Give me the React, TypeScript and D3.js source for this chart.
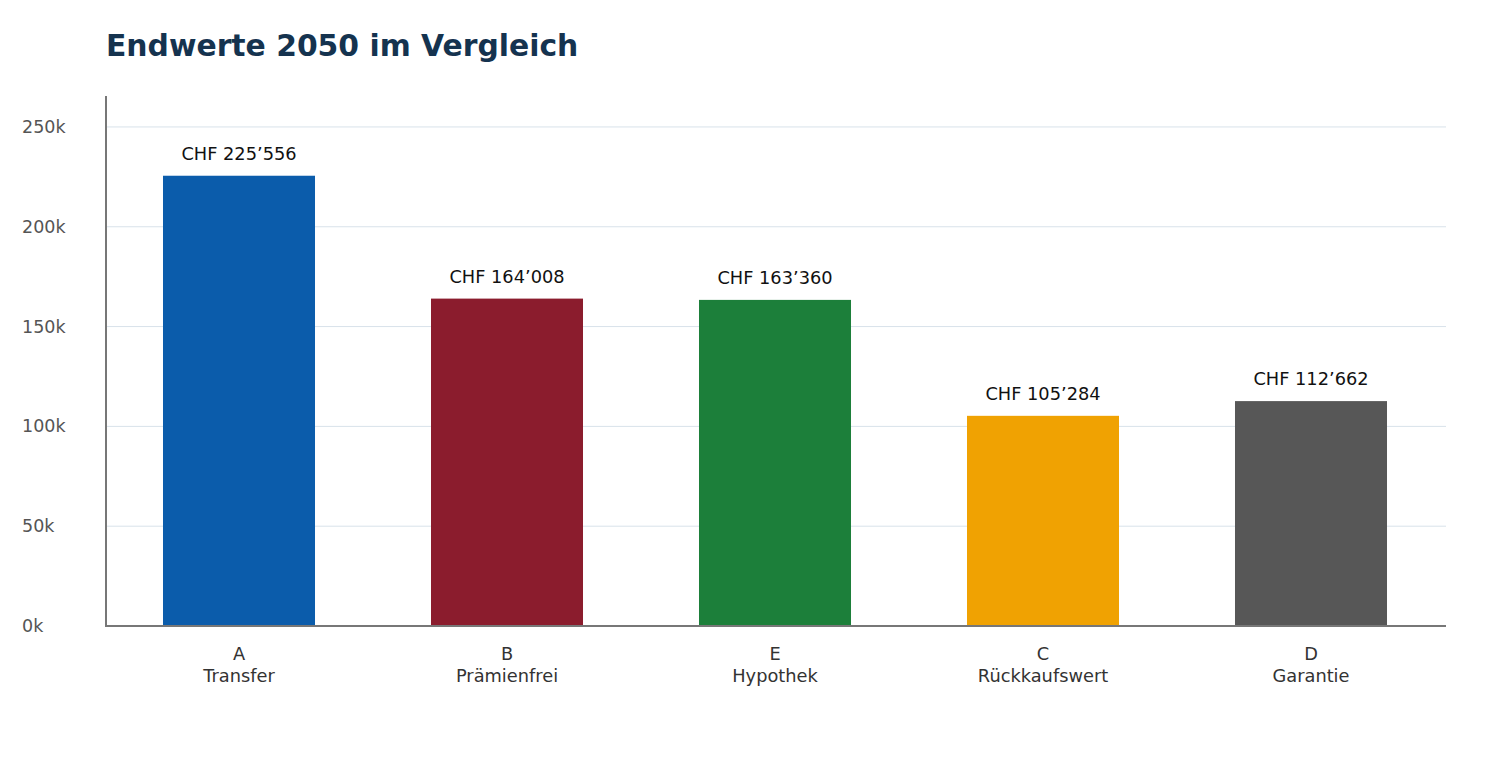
import { useEffect, useRef } from 'react'
import * as d3 from 'd3'

const codes = ['A', 'B', 'E', 'C', 'D']
const names = ['Transfer', 'Prämienfrei', 'Hypothek', 'Rückkaufswert', 'Garantie']
const values = [225556, 164008, 163360, 105284, 112662]
const colors = ['#0b5cab', '#8b1c2d', '#1c7f3a', '#f0a202', '#575757']
const yTicks = [0, 50000, 100000, 150000, 200000, 250000]

const W = 1500, H = 760
const m = { top: 96, right: 54, bottom: 134, left: 106 }
const font = 'DejaVu Sans, sans-serif'

const fmtChf = (v: number) => 'CHF ' + d3.format(',')(v).replace(/,/g, '\u2019')

export default function App() {
  const ref = useRef<SVGSVGElement>(null)

  useEffect(() => {
    const svg = d3.select(ref.current!)
    svg.selectAll('*').remove()

    const x = d3.scaleBand<string>().domain(codes).range([m.left - 1, W - m.right - 1])
      .paddingInner(0.4328).paddingOuter(0.2164)
    const y = d3.scaleLinear().domain([0, 265500]).range([H - m.bottom, m.top])

    svg.append('text').attr('x', m.left).attr('y', 56)
      .attr('font-family', font).attr('font-size', 29.8).attr('font-weight', 'bold')
      .attr('fill', '#15334f').text('Endwerte 2050 im Vergleich')

    // gridlines
    svg.append('g').selectAll('line').data(yTicks.filter(t => t > 0)).join('line')
      .attr('x1', m.left).attr('x2', W - m.right)
      .attr('y1', d => y(d)).attr('y2', d => y(d))
      .attr('stroke', '#d8e2ea').attr('stroke-width', 1)

    // y labels
    svg.append('g').selectAll('text').data(yTicks).join('text')
      .attr('x', 22).attr('y', d => y(d) + 6)
      .attr('font-family', font).attr('font-size', 17.5).attr('fill', '#555')
      .text(d => `${d / 1000}k`)

    // bars
    svg.append('g').selectAll('rect').data(values).join('rect')
      .attr('x', (_, i) => x(codes[i])!).attr('width', x.bandwidth())
      .attr('y', d => y(d)).attr('height', d => y(0) - y(d))
      .attr('fill', (_, i) => colors[i])

    // value labels
    svg.append('g').selectAll('text').data(values).join('text')
      .attr('x', (_, i) => x(codes[i])! + x.bandwidth() / 2).attr('y', d => y(d) - 16)
      .attr('text-anchor', 'middle').attr('font-family', font).attr('font-size', 17.8)
      .attr('fill', '#111').text(d => fmtChf(d))

    // axes lines
    svg.append('line').attr('x1', m.left).attr('x2', m.left).attr('y1', m.top).attr('y2', y(0) + 1)
      .attr('stroke', '#777').attr('stroke-width', 2)
    svg.append('line').attr('x1', m.left - 1).attr('x2', W - m.right).attr('y1', y(0)).attr('y2', y(0))
      .attr('stroke', '#777').attr('stroke-width', 2)

    // x labels
    const xl = svg.append('g').selectAll('text').data(codes).join('text')
      .attr('text-anchor', 'middle').attr('font-family', font).attr('font-size', 17.8).attr('fill', '#333')
      .attr('transform', d => `translate(${x(d)! + x.bandwidth() / 2},0)`)
    xl.append('tspan').attr('x', 0).attr('y', 660).text(d => d)
    xl.append('tspan').attr('x', 0).attr('y', 682).text((_, i) => names[i])
  }, [])

  return <svg ref={ref} width={W} height={H} style={{ display: 'block', margin: -8 }} />
}
